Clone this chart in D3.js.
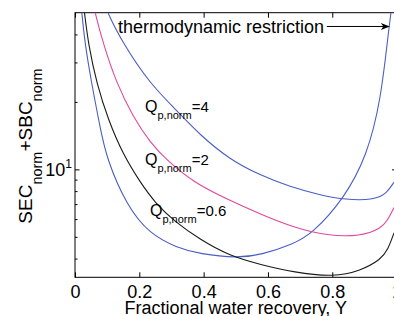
<!DOCTYPE html>
<html>
<head>
<meta charset="utf-8">
<script src="https://cdn.jsdelivr.net/npm/d3@7"></script>
<style>
body { margin: 0; background: #fff; }
svg { display: block; }
text { font-family: "Liberation Sans", Arial, Helvetica, sans-serif; fill: #000; }
</style>
</head>
<body>
<svg width="394" height="316"></svg>
<script>
// recovery Y and normalised cost, one pair of arrays per curve
var restrictY = [0.016, 0.0208, 0.0311, 0.0519, 0.0777, 0.0979, 0.161, 0.233, 0.316, 0.389, 0.505, 0.578, 0.681, 0.737, 0.836, 0.908, 0.951, 0.976, 0.983, 0.988];
var restrictV = [62, 50, 36.3, 24.1, 15.5, 11.2, 6.87, 5.14, 4.48, 4.19, 4.02, 4.15, 4.66, 5.16, 7.38, 11.5, 20.3, 42.9, 50, 62];

var q4Y = [0.092, 0.1004, 0.150, 0.233, 0.316, 0.389, 0.484, 0.575, 0.669, 0.762, 0.840, 0.933, 0.970, 0.992];
var q4V = [56, 50, 36.3, 24.1, 18.35, 14.2, 11.0, 9.43, 8.35, 7.69, 7.31, 7.31, 7.85, 8.78];

var q2Y = [0.055, 0.0622, 0.088, 0.1297, 0.181, 0.2332, 0.285, 0.370, 0.4736, 0.577, 0.681, 0.7845, 0.888, 0.951, 0.973, 0.992];
var q2V = [57, 50, 36.3, 24.1, 17.1, 13.2, 11.0, 8.72, 7.36, 6.31, 5.50, 5.05, 5.03, 5.43, 5.95, 6.76];

var q06Y = [0.024, 0.0295, 0.0414, 0.0675, 0.1035, 0.150, 0.2021, 0.2488, 0.311, 0.389, 0.479, 0.577, 0.681, 0.805, 0.888, 0.951, 0.973, 0.992];
var q06V = [58, 50, 36.3, 24.1, 16.6, 11.6, 8.79, 7.09, 5.84, 4.86, 4.12, 3.76, 3.47, 3.31, 3.53, 3.96, 4.38, 5.21];

var xTicks = [0, 0.2, 0.4, 0.6, 0.8, 1];
var yMajor = [10];
var yMinor = [4, 5, 6, 7, 8, 9, 20, 30, 40];
var qNames = ["4", "2", "0.6"];

var svg = d3.select("svg");
var marginLeft = 75, marginTop = 12.7, plotW = 321.6, plotH = 264.6;

var x = d3.scaleLinear().domain([0, 1]).range([marginLeft, marginLeft + plotW]);
var y = d3.scaleLog().domain([3.3, 50]).range([marginTop + plotH, marginTop]);

svg.append("clipPath").attr("id", "plot-clip")
	.append("rect")
	.attr("x", x(0)).attr("y", y(50))
	.attr("width", x(1) - x(0)).attr("height", y(3.3) - y(50));

function styleAxis(g) {
	g.select(".domain").remove();
	g.selectAll(".tick line").attr("stroke", "#000");
	g.selectAll(".tick text").attr("font-size", 18).attr("fill", "#000")
		.attr("font-family", '"Liberation Sans", Arial, Helvetica, sans-serif');
}

var xFormat = function(d) { return d === 0 ? "0" : d === 1 ? "1" : d.toFixed(1); };

svg.append("g")
	.attr("transform", "translate(0," + y(3.3) + ")")
	.call(d3.axisBottom(x).tickValues(xTicks).tickSize(-5).tickPadding(8).tickFormat(xFormat))
	.call(styleAxis);

svg.append("g")
	.attr("transform", "translate(0," + y(50) + ")")
	.call(d3.axisTop(x).tickValues(xTicks).tickSize(-5).tickFormat(""))
	.call(styleAxis);

[[yMajor, 4.5], [yMinor, 2.5]].forEach(function(t) {
	svg.append("g")
		.attr("transform", "translate(" + x(0) + ",0)")
		.call(d3.axisLeft(y).tickValues(t[0]).tickSize(-t[1]).tickFormat(""))
		.call(styleAxis);
	svg.append("g")
		.attr("transform", "translate(" + x(1) + ",0)")
		.call(d3.axisRight(y).tickValues(t[0]).tickSize(-t[1]).tickFormat(""))
		.call(styleAxis);
});

// frame
svg.append("rect")
	.attr("x", x(0)).attr("y", y(50))
	.attr("width", x(1) - x(0)).attr("height", y(3.3) - y(50))
	.attr("fill", "none").attr("stroke", "#000").attr("stroke-width", 1);

// 10^1 label
var yl = svg.append("text")
	.attr("x", x(0) - 3).attr("y", y(10) + 6.6)
	.attr("text-anchor", "end").attr("font-size", 18);
yl.append("tspan").text("10");
yl.append("tspan").attr("font-size", 12).attr("dy", -8.3).text("1");

// curves
var line = d3.line()
	.x(function(d) { return x(d[0]); })
	.y(function(d) { return y(d[1]); })
	.curve(d3.curveBasis);

var series = [
	{ Y: restrictY, V: restrictV, color: "#4a5ec4" },
	{ Y: q4Y, V: q4V, color: "#4a5ec4" },
	{ Y: q2Y, V: q2V, color: "#e0489e" },
	{ Y: q06Y, V: q06V, color: "#1a1a1a" }
];

svg.append("g").attr("clip-path", "url(#plot-clip)")
	.selectAll("path")
	.data(series)
	.enter().append("path")
	.attr("d", function(s) { return line(d3.zip(s.Y, s.V)); })
	.attr("fill", "none")
	.attr("stroke", function(s) { return s.color; })
	.attr("stroke-width", 1.1);

// Q labels
var qPos = [[0.2177, 18.0], [0.2177, 10.46], [0.2332, 6.21]];
qNames.forEach(function(q, i) {
	var t = svg.append("text")
		.attr("x", x(qPos[i][0])).attr("y", y(qPos[i][1]))
		.attr("font-size", 16);
	t.append("tspan").text("Q");
	t.append("tspan").attr("font-size", 11).attr("dy", 7).text("p,norm");
	t.append("tspan").attr("font-size", 15).attr("dy", -7).text("=" + q);
});

// thermodynamic restriction annotation
svg.append("text")
	.attr("x", x(0.1337)).attr("y", y(40.4))
	.attr("font-size", 18)
	.text("thermodynamic restriction");

var arrowY = y(43.4), arrowX0 = x(0.783), arrowX1 = x(0.979);
svg.append("line")
	.attr("x1", arrowX0).attr("x2", arrowX1 - 4)
	.attr("y1", arrowY).attr("y2", arrowY)
	.attr("stroke", "#000").attr("stroke-width", 1);
svg.append("path")
	.attr("d", "M" + arrowX1 + "," + arrowY +
		"L" + (arrowX1 - 9) + "," + (arrowY - 3.6) +
		"L" + (arrowX1 - 6.5) + "," + arrowY +
		"L" + (arrowX1 - 9) + "," + (arrowY + 3.6) + "Z")
	.attr("fill", "#000");

// axis titles
svg.append("text")
	.attr("x", (x(0) + x(1)) / 2).attr("y", 314)
	.attr("text-anchor", "middle").attr("font-size", 18)
	.text("Fractional water recovery, Y");

var yt = svg.append("text")
	.attr("transform", "translate(31.5," + ((y(3.3) + y(50)) / 2 + 1) + ") rotate(-90)")
	.attr("text-anchor", "middle").attr("font-size", 19);
yt.append("tspan").text("SEC");
yt.append("tspan").attr("font-size", 14.5).attr("dy", 10.5).text("norm");
yt.append("tspan").attr("dy", -10.5).text("+SBC");
yt.append("tspan").attr("font-size", 14.5).attr("dy", 10.5).text("norm");
</script>
</body>
</html>
